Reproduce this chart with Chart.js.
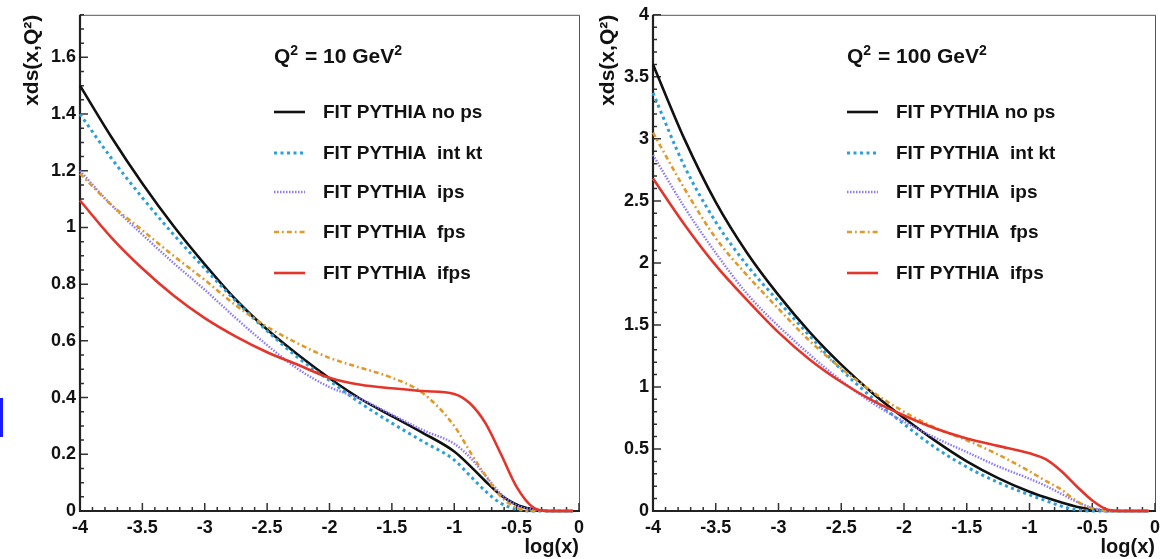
<!DOCTYPE html>
<html>
<head>
<meta charset="utf-8">
<script src="https://cdn.jsdelivr.net/npm/chart.js@4"></script>
<style>
  body { margin: 0; background: #fff; width: 1171px; height: 559px; overflow: hidden; position: relative; }
  canvas { position: absolute; top: 0; }
  #plotLow { left: 0; }
  #plotHigh { left: 590px; }
  #edgeMark { position: absolute; left: 0; top: 398px; width: 3px; height: 39px; background: #1a1aff; }
</style>
</head>
<body>
<canvas id="plotLow" width="590" height="559"></canvas>
<canvas id="plotHigh" width="581" height="559"></canvas>
<div id="edgeMark"></div>
<script>
// log(x) sample points shared by every curve
const logX = [-4, -3.75, -3.5, -3.25, -3, -2.75, -2.5, -2.25, -2, -1.75, -1.5, -1.25, -1, -0.875, -0.75, -0.625, -0.5, -0.375, -0.25, -0.125, -0.05];

const seriesNames = ["FIT PYTHIA no ps", "FIT PYTHIA  int kt", "FIT PYTHIA  ips", "FIT PYTHIA  fps", "FIT PYTHIA  ifps"];

// Q^2 = 10 GeV^2
const q10NoPs  = [1.50, 1.32, 1.155, 1.005, 0.87, 0.745, 0.64, 0.55, 0.468, 0.395, 0.335, 0.275, 0.21, 0.16, 0.105, 0.055, 0.022, 0.006, 0, 0, 0];
const q10IntKt = [1.40, 1.245, 1.105, 0.975, 0.855, 0.74, 0.635, 0.54, 0.46, 0.38, 0.31, 0.245, 0.18, 0.125, 0.07, 0.027, 0.006, 0, 0, 0, 0];
const q10Ips   = [1.20, 1.08, 0.975, 0.875, 0.78, 0.68, 0.585, 0.50, 0.437, 0.395, 0.34, 0.285, 0.237, 0.19, 0.125, 0.06, 0.02, 0.005, 0, 0, 0];
const q10Fps   = [1.19, 1.08, 0.99, 0.90, 0.815, 0.725, 0.65, 0.59, 0.54, 0.505, 0.47, 0.415, 0.30, 0.21, 0.125, 0.05, 0.012, 0, 0, 0, 0];
const q10Ifps  = [1.095, 0.965, 0.855, 0.76, 0.68, 0.615, 0.56, 0.515, 0.47, 0.445, 0.433, 0.423, 0.413, 0.38, 0.31, 0.20, 0.085, 0.015, 0, 0, 0];

// Q^2 = 100 GeV^2
const q100NoPs  = [3.60, 3.00, 2.49, 2.08, 1.74, 1.44, 1.18, 0.95, 0.75, 0.565, 0.40, 0.265, 0.155, 0.11, 0.07, 0.035, 0.012, 0, 0, 0, 0];
const q100IntKt = [3.37, 2.78, 2.33, 1.98, 1.69, 1.41, 1.14, 0.91, 0.70, 0.51, 0.355, 0.23, 0.13, 0.085, 0.04, 0.01, 0, 0, 0, 0, 0];
const q100Ips   = [2.87, 2.45, 2.08, 1.75, 1.49, 1.26, 1.05, 0.87, 0.72, 0.59, 0.475, 0.36, 0.26, 0.205, 0.14, 0.075, 0.025, 0.005, 0, 0, 0];
const q100Fps   = [3.05, 2.60, 2.20, 1.90, 1.63, 1.37, 1.15, 0.96, 0.80, 0.67, 0.57, 0.455, 0.32, 0.245, 0.175, 0.08, 0.02, 0, 0, 0, 0];
const q100Ifps  = [2.68, 2.31, 1.98, 1.70, 1.44, 1.22, 1.04, 0.89, 0.77, 0.665, 0.585, 0.525, 0.465, 0.42, 0.325, 0.20, 0.085, 0.01, 0, 0, 0];

// tick labels
const xTicks = [-4, -3.5, -3, -2.5, -2, -1.5, -1, -0.5, 0];
const yTicksLow = [0, 0.2, 0.4, 0.6, 0.8, 1, 1.2, 1.4, 1.6];
const yTicksHigh = [0, 0.5, 1, 1.5, 2, 2.5, 3, 3.5, 4];

const FONT = '"Liberation Sans", Arial, sans-serif';

const styles = [
  { borderColor: "#111111", borderWidth: 2.6, borderDash: [] },
  { borderColor: "#2a9fd8", borderWidth: 3, borderDash: [3, 3.5] },
  { borderColor: "#8a78ff", borderWidth: 2.4, borderDash: [1.5, 1.5] },
  { borderColor: "#e09a2a", borderWidth: 2.6, borderDash: [5, 3, 1.8, 3] },
  { borderColor: "#e4352b", borderWidth: 2.6, borderDash: [] },
];

// ROOT-like frame: inward ticks, thick left/bottom axes, legend box
const rootFrame = {
  id: "rootFrame",
  beforeDatasetsDraw(chart, args, opts) {
    const { ctx, chartArea: a, scales: { x, y } } = chart;
    ctx.save();
    ctx.strokeStyle = "#555";
    ctx.lineWidth = 1;
    ctx.beginPath();
    ctx.moveTo(a.left, a.top + 0.5);
    ctx.lineTo(a.right + 0.5, a.top + 0.5);
    ctx.lineTo(a.right + 0.5, a.bottom);
    ctx.stroke();

    ctx.strokeStyle = "#333";
    ctx.lineWidth = 1.5;
    ctx.beginPath();
    let n = Math.round((y.max - y.min) / opts.minorY);
    for (let i = 0; i <= n; i++) {
      const p = y.getPixelForValue(y.min + i * opts.minorY);
      const len = i % opts.subY === 0 ? 8 : 4;
      ctx.moveTo(a.left, p);
      ctx.lineTo(a.left + len, p);
    }
    n = Math.round((x.max - x.min) / 0.1);
    for (let i = 0; i <= n; i++) {
      const p = x.getPixelForValue(x.min + i * 0.1);
      const len = i % 5 === 0 ? 8 : 4;
      ctx.moveTo(p, a.bottom);
      ctx.lineTo(p, a.bottom - len);
    }
    ctx.stroke();

    ctx.strokeStyle = "#222";
    ctx.lineWidth = 2.2;
    ctx.beginPath();
    ctx.moveTo(a.left, a.top);
    ctx.lineTo(a.left, a.bottom);
    ctx.lineTo(a.right + 1, a.bottom);
    ctx.stroke();
    ctx.restore();
  },
  afterDatasetsDraw(chart, args, opts) {
    const { ctx, chartArea: a } = chart;
    const x0 = a.left + 194;
    ctx.save();
    ctx.fillStyle = "#111";
    ctx.textBaseline = "alphabetic";

    // title with raised superscripts
    let tx = x0;
    opts.title.forEach(([txt, sup]) => {
      ctx.font = "bold " + (sup ? 14 : 21) + "px " + FONT;
      ctx.fillText(txt, tx, sup ? 55 : 63);
      tx += ctx.measureText(txt).width + (sup ? 1 : 0);
    });

    ctx.font = "bold 19px " + FONT;
    ctx.textBaseline = "middle";
    const rows = [112, 153, 192, 232, 273];
    chart.data.datasets.forEach((ds, i) => {
      ctx.strokeStyle = ds.borderColor;
      ctx.lineWidth = ds.borderWidth;
      ctx.setLineDash(ds.borderDash);
      ctx.beginPath();
      ctx.moveTo(x0, rows[i]);
      ctx.lineTo(x0 + 31, rows[i]);
      ctx.stroke();
      ctx.setLineDash([]);
      ctx.fillText(ds.label, x0 + 49, rows[i] + 1);
    });
    ctx.restore();
  },
};

function makePlot(canvasId, series, yMax, yTicks, minorY, subY, yAxisWidth, titlePad, padTop, padRight, title) {
  const datasets = series.map((vals, i) => ({
    label: seriesNames[i],
    data: logX.map((lx, j) => ({ x: lx, y: vals[j] })),
    borderColor: styles[i].borderColor,
    borderWidth: styles[i].borderWidth,
    borderDash: styles[i].borderDash,
    pointRadius: 0,
    cubicInterpolationMode: "monotone",
    fill: false,
    clip: false,
    order: 5 - i,
  }));

  return new Chart(document.getElementById(canvasId).getContext("2d"), {
    type: "line",
    data: { datasets },
    plugins: [rootFrame],
    options: {
      responsive: false,
      animation: false,
      devicePixelRatio: 1,
      layout: { padding: { top: padTop, right: padRight, left: 0, bottom: 0 } },
      plugins: {
        legend: { display: false },
        tooltip: { enabled: false },
        rootFrame: { minorY, subY, title },
      },
      scales: {
        x: {
          type: "linear",
          min: -4,
          max: 0,
          afterBuildTicks: (scale) => { scale.ticks = xTicks.map((v) => ({ value: v })); },
          afterFit: (scale) => { scale.height = 48; },
          grid: { display: false, drawTicks: false },
          border: { display: false },
          ticks: {
            autoSkip: false,
            maxRotation: 0,
            padding: 6,
            color: "#111",
            font: { family: FONT, size: 18, weight: "bold" },
            callback: (v) => String(+(+v).toFixed(2)),
          },
          title: {
            display: true,
            text: "log(x)",
            align: "end",
            color: "#111",
            font: { family: FONT, size: 20, weight: "bold" },
            padding: { top: 0, bottom: 0 },
          },
        },
        y: {
          type: "linear",
          min: 0,
          max: yMax,
          afterBuildTicks: (scale) => { scale.ticks = yTicks.map((v) => ({ value: v })); },
          afterFit: (scale) => { scale.width = yAxisWidth; },
          grid: { display: false, drawTicks: false },
          border: { display: false },
          ticks: {
            autoSkip: false,
            padding: 4,
            color: "#111",
            font: { family: FONT, size: 18, weight: "bold" },
            callback: (v) => String(+(+v).toFixed(2)),
          },
          title: {
            display: true,
            text: "xds(x,Q²)",
            align: "end",
            color: "#111",
            font: { family: FONT, size: 21, weight: "bold" },
            padding: { top: titlePad, bottom: 0 },
          },
        },
      },
    },
  });
}

makePlot("plotLow", [q10NoPs, q10IntKt, q10Ips, q10Fps, q10Ifps], 1.75, yTicksLow, 0.05, 4, 80, 20, 11, 8,
  [["Q", false], ["2", true], [" = 10 GeV", false], ["2", true]]);
makePlot("plotHigh", [q100NoPs, q100IntKt, q100Ips, q100Fps, q100Ifps], 4, yTicksHigh, 0.1, 5, 63, 6, 12, 16,
  [["Q", false], ["2", true], [" = 100 GeV", false], ["2", true]]);
</script>
</body>
</html>
